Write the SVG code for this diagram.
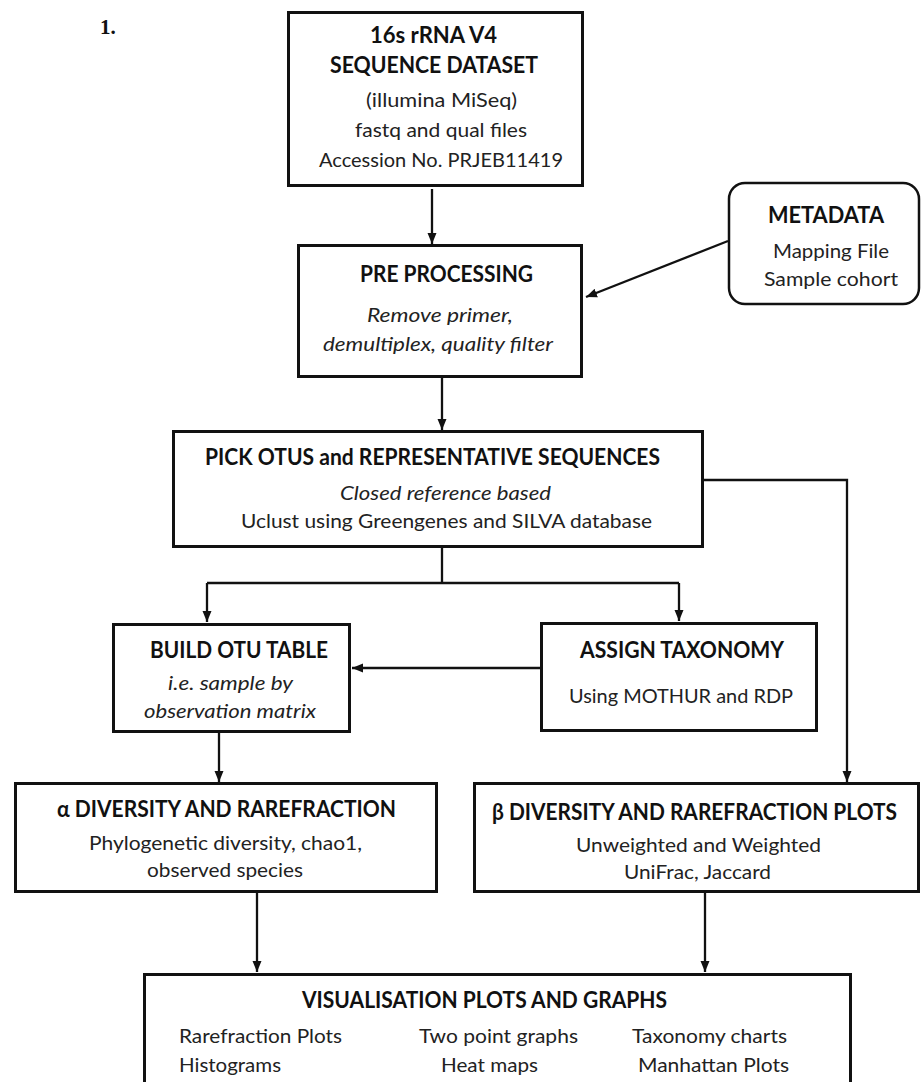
<svg xmlns="http://www.w3.org/2000/svg" width="922" height="1082" viewBox="0 0 922 1082">
<style>
.box{fill:#fff;stroke:#111;stroke-width:3}
.rbox{fill:#fff;stroke:#111;stroke-width:2.5}
.con{fill:none;stroke:#111;stroke-width:2.3}
.h{font-family:Lato,"Liberation Sans",sans-serif;font-weight:bold;font-size:22px;fill:#111}
.t{font-family:Lato,"Liberation Sans",sans-serif;font-size:20px;fill:#222}
.i{font-family:Lato,"Liberation Sans",sans-serif;font-style:italic;font-size:20px;fill:#222}
.num{font-family:"Liberation Serif",serif;font-weight:bold;font-size:21px;fill:#111}
</style>
<defs>
<marker id="arr" markerUnits="userSpaceOnUse" markerWidth="12" markerHeight="10" refX="11" refY="5" orient="auto">
<path d="M0,0.5 L11,5 L0,9.5 Z" fill="#111"/>
</marker>
</defs>
<rect width="922" height="1082" fill="#fff"/>
<text class="num" x="100" y="34">1.</text>

<g id="connectors">
<path class="con" d="M432,189 V244" marker-end="url(#arr)"/>
<path class="con" d="M728,241 L586,297" marker-end="url(#arr)"/>
<path class="con" d="M442,378 V430" marker-end="url(#arr)"/>
<path class="con" d="M442,548 V583 M207,583 H679"/>
<path class="con" d="M207,583 V622" marker-end="url(#arr)"/>
<path class="con" d="M679,583 V621" marker-end="url(#arr)"/>
<path class="con" d="M540,668 H352" marker-end="url(#arr)"/>
<path class="con" d="M704,480 H847 V782" marker-end="url(#arr)"/>
<path class="con" d="M219,733 V782" marker-end="url(#arr)"/>
<path class="con" d="M257,893 V972" marker-end="url(#arr)"/>
<path class="con" d="M705,893 V972" marker-end="url(#arr)"/>
</g>

<g id="node-dataset">
<rect class="box" x="288.5" y="12.5" width="294" height="173"/>
<text class="h" x="370" y="43" textLength="127" lengthAdjust="spacingAndGlyphs">16s rRNA V4</text>
<text class="h" x="330" y="73" textLength="208" lengthAdjust="spacingAndGlyphs">SEQUENCE DATASET</text>
<text class="t" x="366" y="107" textLength="151" lengthAdjust="spacingAndGlyphs">(illumina MiSeq)</text>
<text class="t" x="355" y="137" textLength="172" lengthAdjust="spacingAndGlyphs">fastq and qual files</text>
<text class="t" x="319" y="167" textLength="244" lengthAdjust="spacingAndGlyphs">Accession No. PRJEB11419</text>
</g>

<g id="node-metadata">
<rect class="rbox" x="729" y="183" width="190" height="121" rx="16" ry="16"/>
<text class="h" x="768" y="223" textLength="116" lengthAdjust="spacingAndGlyphs">METADATA</text>
<text class="t" x="773" y="258" textLength="116" lengthAdjust="spacingAndGlyphs">Mapping File</text>
<text class="t" x="764" y="286" textLength="134" lengthAdjust="spacingAndGlyphs">Sample cohort</text>
</g>

<g id="node-preprocessing">
<rect class="box" x="298.5" y="245.5" width="283" height="131"/>
<text class="h" x="360" y="282" textLength="173" lengthAdjust="spacingAndGlyphs">PRE PROCESSING</text>
<text class="i" x="367" y="322" textLength="146" lengthAdjust="spacingAndGlyphs">Remove primer,</text>
<text class="i" x="323" y="351" textLength="230" lengthAdjust="spacingAndGlyphs">demultiplex, quality filter</text>
</g>

<g id="node-pickotus">
<rect class="box" x="173.5" y="431.5" width="529" height="115"/>
<text class="h" x="205" y="465" textLength="455" lengthAdjust="spacingAndGlyphs">PICK OTUS and REPRESENTATIVE SEQUENCES</text>
<text class="i" x="340" y="500" textLength="211" lengthAdjust="spacingAndGlyphs">Closed reference based</text>
<text class="t" x="241" y="528" textLength="411" lengthAdjust="spacingAndGlyphs">Uclust using Greengenes and SILVA database</text>
</g>

<g id="node-buildotu">
<rect class="box" x="113.5" y="624.5" width="236" height="107"/>
<text class="h" x="150" y="658" textLength="178" lengthAdjust="spacingAndGlyphs">BUILD OTU TABLE</text>
<text class="i" x="168" y="690" textLength="125" lengthAdjust="spacingAndGlyphs">i.e. sample by</text>
<text class="i" x="144" y="718" textLength="172" lengthAdjust="spacingAndGlyphs">observation matrix</text>
</g>

<g id="node-assigntaxonomy">
<rect class="box" x="541.5" y="623.5" width="275" height="107"/>
<text class="h" x="580" y="658" textLength="204" lengthAdjust="spacingAndGlyphs">ASSIGN TAXONOMY</text>
<text class="t" x="569" y="703" textLength="224" lengthAdjust="spacingAndGlyphs">Using MOTHUR and RDP</text>
</g>

<g id="node-alpha">
<rect class="box" x="15.5" y="783.5" width="421" height="108"/>
<text class="h" x="57" y="817" textLength="339" lengthAdjust="spacingAndGlyphs">α DIVERSITY AND RAREFRACTION</text>
<text class="t" x="89" y="850" textLength="273" lengthAdjust="spacingAndGlyphs">Phylogenetic diversity, chao1,</text>
<text class="t" x="147" y="877" textLength="156" lengthAdjust="spacingAndGlyphs">observed species</text>
</g>

<g id="node-beta">
<rect class="box" x="474.5" y="783.5" width="444" height="108"/>
<text class="h" x="492" y="820" textLength="405" lengthAdjust="spacingAndGlyphs">β DIVERSITY AND RAREFRACTION PLOTS</text>
<text class="t" x="576" y="852" textLength="245" lengthAdjust="spacingAndGlyphs">Unweighted and Weighted</text>
<text class="t" x="624" y="879" textLength="147" lengthAdjust="spacingAndGlyphs">UniFrac, Jaccard</text>
</g>

<g id="node-visualisation">
<rect class="box" x="144.5" y="974.5" width="706" height="200"/>
<text class="h" x="302" y="1008" textLength="365" lengthAdjust="spacingAndGlyphs">VISUALISATION PLOTS AND GRAPHS</text>
<text class="t" x="179" y="1043" textLength="163" lengthAdjust="spacingAndGlyphs">Rarefraction Plots</text>
<text class="t" x="419" y="1043" textLength="159" lengthAdjust="spacingAndGlyphs">Two point graphs</text>
<text class="t" x="632" y="1043" textLength="155" lengthAdjust="spacingAndGlyphs">Taxonomy charts</text>
<text class="t" x="179" y="1072" textLength="102" lengthAdjust="spacingAndGlyphs">Histograms</text>
<text class="t" x="441" y="1072" textLength="97" lengthAdjust="spacingAndGlyphs">Heat maps</text>
<text class="t" x="638" y="1072" textLength="151" lengthAdjust="spacingAndGlyphs">Manhattan Plots</text>
</g>
</svg>
